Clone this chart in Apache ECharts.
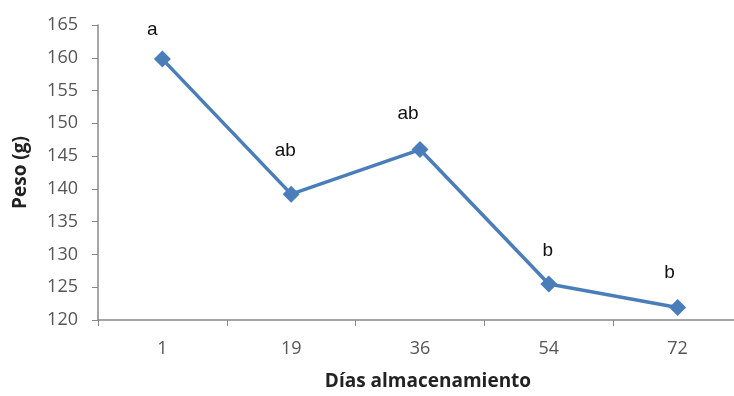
<!DOCTYPE html>
<html><head><meta charset="utf-8">
<script src="https://cdn.jsdelivr.net/npm/echarts@6/dist/echarts.min.js"></script>
<style>html,body{margin:0;padding:0;background:#fff;overflow:hidden;width:734px;height:396px}#c{width:750px;height:396px}</style>
</head><body><div id="c"></div>
<script>
const categories = ['1','19','36','54','72'];
const pesoValues = [159.8, 139.2, 146.0, 125.5, 121.9];
const letterLabels = ['a','ab','ab','b','b'];
const labelOffsets = [[-10,-29],[-6,-43],[-12,-36],[-1,-33],[-8,-35]];

const chart = echarts.init(document.getElementById('c'));
const fontFam = 'Open Sans, Liberation Sans, sans-serif';
chart.setOption({
  animation: false,
  grid: {left: 98, right: 8, top: 25, bottom: 73},
  xAxis: {
    type: 'category', data: categories, boundaryGap: true,
    name: 'Días almacenamiento', nameLocation: 'middle', nameGap: 52,
    nameTextStyle: {fontFamily: fontFam, fontWeight: 'bold', fontSize: 19, color: '#222', padding:[0,0,0,16]},
    axisLine: {lineStyle: {color: '#888', width: 1.5}},
    axisTick: {show: true, length: 6, lineStyle: {color: '#888'}},
    axisLabel: {fontFamily: fontFam, fontSize: 18, color: '#555', margin: 20}
  },
  yAxis: {
    type: 'value', min: 120, max: 165, interval: 5,
    name: 'Peso (g)', nameLocation: 'middle', nameGap: 68, nameRotate: 90,
    nameTextStyle: {fontFamily: fontFam, fontWeight: 'bold', fontSize: 19, color: '#222'},
    axisLine: {show: true, lineStyle: {color: '#888', width: 1.5}},
    axisTick: {show: true, length: 6, lineStyle: {color: '#888'}},
    splitLine: {show: false},
    axisLabel: {fontFamily: fontFam, fontSize: 18, color: '#555', margin: 20}
  },
  series: [{
    type: 'line',
    data: pesoValues.map((v, i) => ({
      value: v,
      label: {show: true, formatter: letterLabels[i], position: 'inside', offset: labelOffsets[i]}
    })),
    symbol: 'diamond', symbolSize: 17,
    lineStyle: {color: '#4a7ebb', width: 3.5},
    itemStyle: {color: '#4a7ebb'},
    label: {fontFamily: 'Liberation Sans, Arial, sans-serif', fontSize: 19, color: '#111'}
  }]
});
</script></body></html>
